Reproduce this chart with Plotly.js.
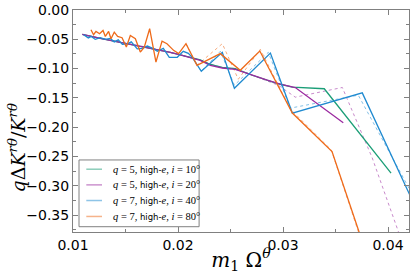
<!DOCTYPE html>
<html>
<head>
<meta charset="utf-8">
<script src="https://cdn.plot.ly/plotly-3.0.1.min.js"></script>
<style>html,body{margin:0;padding:0;background:#fff;}#chart{width:411px;height:274px;}</style>
</head>
<body>
<div id="chart"></div>
<script>
// ---- data ----
var SANS = 'DejaVu Sans';
var seriesNames = [
  '<i>q</i> = 5, <span style="font-family:DejaVu Sans;font-size:8.5px">high-</span><i>e</i>, <i>i</i> = 10°',
  '<i>q</i> = 5, <span style="font-family:DejaVu Sans;font-size:8.5px">high-</span><i>e</i>, <i>i</i> = 20°',
  '<i>q</i> = 7, <span style="font-family:DejaVu Sans;font-size:8.5px">high-</span><i>e</i>, <i>i</i> = 40°',
  '<i>q</i> = 7, <span style="font-family:DejaVu Sans;font-size:8.5px">high-</span><i>e</i>, <i>i</i> = 80°'
];
var seriesColors = ['#1b9e77', '#9b2aa0', '#1f8ad0', '#ee6a1a'];

var q5i10_x = [0.01089,0.01165,0.01260,0.01355,0.01450,0.01546,0.01641,0.01736,0.01831,0.01927,0.02022,0.02117,0.02212,0.02308,0.02422,0.02546,0.02708,0.02955,0.03089,0.03393,0.04029];
var q5i10_y = [-0.0417,-0.0451,-0.0485,-0.0519,-0.0553,-0.0578,-0.0612,-0.0655,-0.0689,-0.0723,-0.0765,-0.0808,-0.0850,-0.0930,-0.0980,-0.1000,-0.1114,-0.1259,-0.1318,-0.1344,-0.2786];

var q5i20_x = [0.01089,0.01165,0.01260,0.01355,0.01450,0.01546,0.01641,0.01736,0.01831,0.01927,0.02022,0.02117,0.02212,0.02308,0.02422,0.02546,0.02708,0.02850,0.02974,0.03117,0.03574];
var q5i20_y = [-0.0417,-0.0451,-0.0485,-0.0519,-0.0553,-0.0578,-0.0612,-0.0655,-0.0689,-0.0723,-0.0765,-0.0808,-0.0859,-0.0944,-0.0990,-0.1012,-0.1114,-0.1199,-0.1267,-0.1323,-0.1925];
var q5i20dot_x = [0.01089,0.01260,0.01450,0.01641,0.01831,0.02022,0.02212,0.02422,0.02546,0.02708,0.02955,0.03117,0.03565,0.03850,0.04136];
var q5i20dot_y = [-0.0417,-0.0485,-0.0553,-0.0612,-0.0689,-0.0765,-0.0859,-0.0990,-0.1012,-0.1114,-0.1284,-0.1488,-0.1323,-0.2526,-0.3971];

var q7i40_x = [0.01101,0.01146,0.01174,0.01212,0.01260,0.01308,0.01355,0.01393,0.01431,0.01470,0.01517,0.01555,0.01612,0.01660,0.01708,0.01765,0.01803,0.01860,0.01917,0.01993,0.02050,0.02098,0.02136,0.02222,0.02422,0.02537,0.02880,0.03089,0.03755,0.04260];
var q7i40_y = [-0.0422,-0.0476,-0.0451,-0.0502,-0.0473,-0.0502,-0.0485,-0.0544,-0.0510,-0.0587,-0.0578,-0.0544,-0.0663,-0.0655,-0.0616,-0.0660,-0.0706,-0.0655,-0.0808,-0.0808,-0.0706,-0.0740,-0.0808,-0.1046,-0.0723,-0.1335,-0.0735,-0.1760,-0.1415,-0.3359];
var q7i40dot_x = [0.02136,0.02222,0.02403,0.02537,0.02860,0.03070,0.03717,0.04260];
var q7i40dot_y = [-0.0808,-0.1046,-0.0706,-0.1284,-0.0723,-0.1675,-0.1454,-0.3240];

var q7i80_x = [0.01171,0.01196,0.01219,0.01253,0.01286,0.01308,0.01339,0.01362,0.01393,0.01425,0.01467,0.01508,0.01546,0.01594,0.01641,0.01679,0.01730,0.01790,0.01848,0.01895,0.01958,0.02006,0.02076,0.02181,0.02403,0.02593,0.02779,0.03089,0.03467,0.03765];
var q7i80_y = [-0.0337,-0.0422,-0.0366,-0.0405,-0.0349,-0.0451,-0.0366,-0.0490,-0.0378,-0.0451,-0.0473,-0.0633,-0.0434,-0.0490,-0.0718,-0.0633,-0.0320,-0.0888,-0.0531,-0.0575,-0.0689,-0.0745,-0.0575,-0.0944,-0.0745,-0.1029,-0.0701,-0.1760,-0.2418,-0.4005];
var q7i80dot_x = [0.02076,0.02181,0.02422,0.02574,0.02784,0.03070,0.03460,0.03765];
var q7i80dot_y = [-0.0575,-0.0944,-0.0575,-0.1182,-0.0672,-0.1692,-0.2389,-0.4039];

var xTickVals = [0.01, 0.02, 0.03, 0.04];
var xTickText = ['0.01', '0.02', '0.03', '0.04'];
var yTickVals = [0, -0.05, -0.10, -0.15, -0.20, -0.25, -0.30, -0.35];
var yTickText = ['0.00', '\u22120.05', '\u22120.10', '\u22120.15', '\u22120.20', '\u22120.25', '\u22120.30', '\u22120.35'];

// ---- traces ----
function line(x, y, c, dotted) {
  return {
    type: 'scatter', mode: 'lines', x: x, y: y, showlegend: false, hoverinfo: 'skip',
    line: {color: c, width: dotted ? 1 : 1.3, dash: dotted ? 'dot' : 'solid'},
    opacity: dotted ? 0.55 : 1
  };
}
var traces = [
  line(q5i20dot_x, q5i20dot_y, seriesColors[1], true),
  line(q7i40dot_x, q7i40dot_y, seriesColors[2], true),
  line(q7i80dot_x, q7i80dot_y, seriesColors[3], true),
  line(q5i10_x, q5i10_y, seriesColors[0], false),
  line(q5i20_x, q5i20_y, seriesColors[1], false),
  line(q7i40_x, q7i40_y, seriesColors[2], false),
  line(q7i80_x, q7i80_y, seriesColors[3], false)
];

// ---- legend (drawn as a box, short lines and text in paper coordinates) ----
var legRowsY = [0.2828, 0.2123, 0.1418, 0.0700];
var shapes = [{
  type: 'rect', xref: 'paper', yref: 'paper', x0: 0.0179, x1: 0.3753, y0: 0.0238, y1: 0.3245,
  fillcolor: '#fff', line: {color: '#808080', width: 1}, layer: 'above'
}];
var annotations = [];
for (var k = 0; k < seriesNames.length; k++) {
  shapes.push({
    type: 'line', xref: 'paper', yref: 'paper', x0: 0.0396, x1: 0.0864, y0: legRowsY[k], y1: legRowsY[k],
    line: {color: seriesColors[k], width: 1.5}, opacity: 0.5, layer: 'above'
  });
  annotations.push({
    xref: 'paper', yref: 'paper', x: 0.114, y: legRowsY[k], xanchor: 'left', yanchor: 'middle',
    showarrow: false, text: seriesNames[k],
    font: {family: 'Liberation Serif', size: 10.5, color: '#000'}
  });
}
// y-axis title
annotations.push({
  xref: 'paper', yref: 'paper', x: -0.167, y: 0.38, xanchor: 'center', yanchor: 'middle',
  textangle: -90, showarrow: false,
  text: '<i>q</i>Δ<i>K</i><sup><i>rθ</i></sup>/<i>K</i><sup><i>rθ</i></sup>',
  font: {family: 'DejaVu Serif', size: 19, color: '#000'}
});

var axisCommon = {
  showgrid: false, zeroline: false, showline: true, linecolor: '#808080', linewidth: 1,
  mirror: 'ticks', ticks: 'inside', ticklen: 5, tickcolor: '#808080', tickwidth: 1,
  tickfont: {family: SANS, size: 14, color: '#000'}
};

var layout = {
  width: 411, height: 274,
  margin: {l: 73, r: 2.3, t: 9.5, b: 41.7},
  paper_bgcolor: '#fff', plot_bgcolor: '#fff',
  showlegend: false,
  shapes: shapes,
  annotations: annotations,
  xaxis: Object.assign({}, axisCommon, {
    range: [0.01, 0.042], tickvals: xTickVals, ticktext: xTickText,
    minor: {dtick: 0.005, tick0: 0, ticks: 'inside', ticklen: 3, tickcolor: '#808080'},
    title: {text: '<i>m</i><sub>1</sub> Ω<sup><i>θ</i></sup>', font: {family: 'DejaVu Serif', size: 20, color: '#000'}, standoff: 6}
  }),
  yaxis: Object.assign({}, axisCommon, {
    range: [-0.379, 0.0], tickvals: yTickVals, ticktext: yTickText,
    minor: {dtick: 0.025, tick0: 0, ticks: 'inside', ticklen: 3, tickcolor: '#808080'}
  })
};

Plotly.newPlot('chart', traces, layout, {displayModeBar: false, staticPlot: true});
</script>
</body>
</html>
